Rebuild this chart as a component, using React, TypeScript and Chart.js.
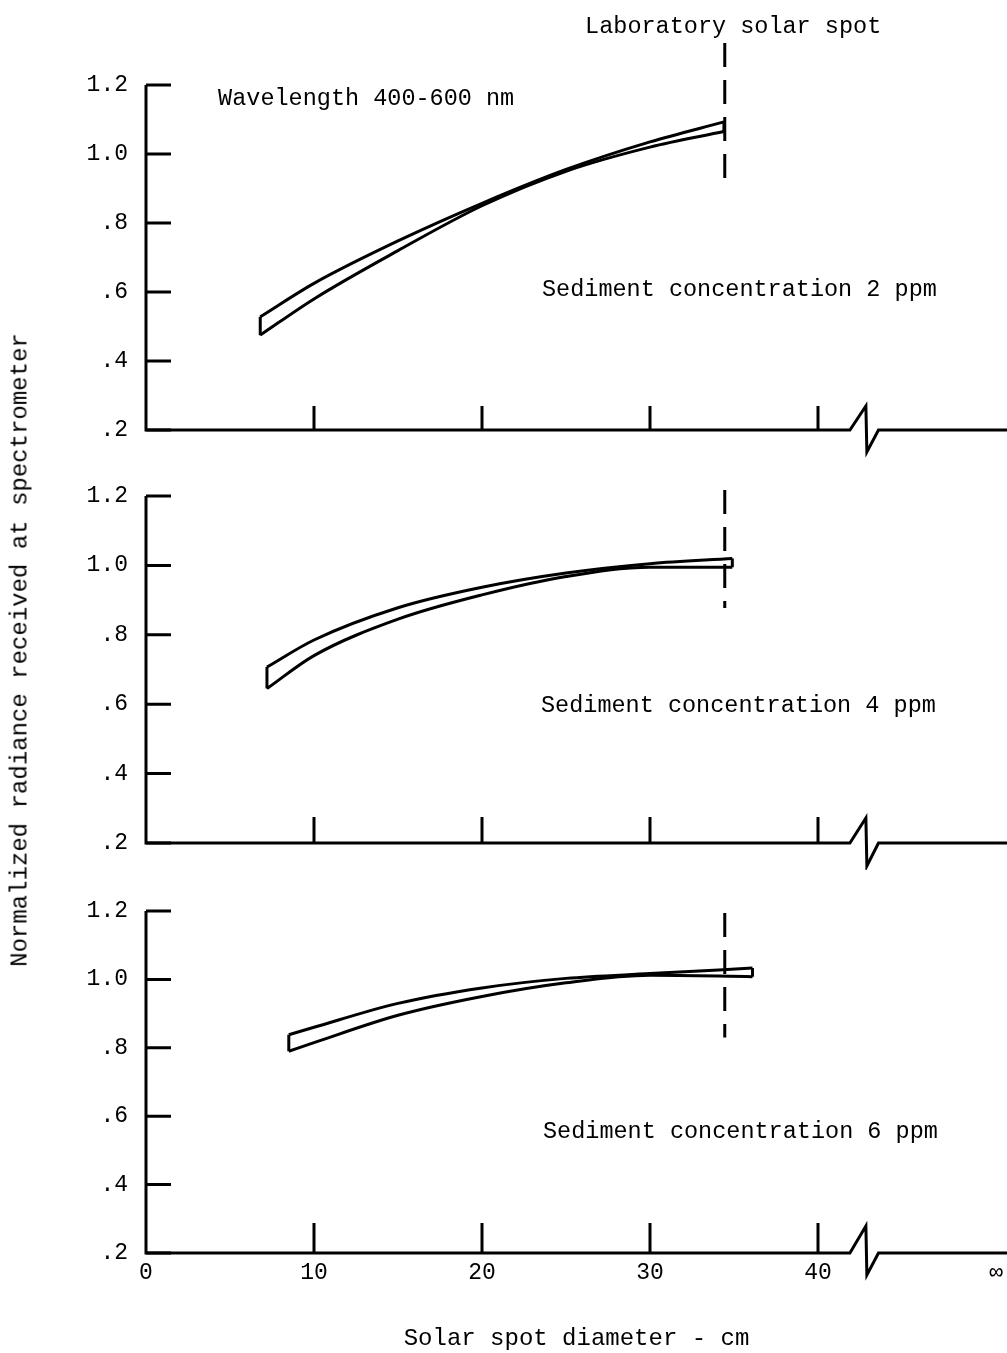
import React, { useEffect, useRef } from 'react';
import { Chart, registerables } from 'chart.js';

Chart.register(...registerables);

const FONT = '"Liberation Mono", "DejaVu Sans Mono", monospace';

// ---- axis ticks ----
const xTickValues = [0, 10, 20, 30, 40, 50.6];
const xTickLabels = ['0', '10', '20', '30', '40', '∞'];
const xTickMarks = [10, 20, 30, 40];
const yTickValues = [0.2, 0.4, 0.6, 0.8, 1.0, 1.2];
const yTickLabels = ['.2', '.4', '.6', '.8', '1.0', '1.2'];

// ---- data: solar spot diameter (cm) vs normalized radiance band ----
const diam2ppm = [6.8, 10, 15, 20, 25, 30, 34.4];
const upper2ppm = [0.528, 0.625, 0.748, 0.857, 0.955, 1.035, 1.093];
const lower2ppm = [0.475, 0.58, 0.72, 0.85, 0.95, 1.02, 1.065];

const diam4ppm = [7.2, 10, 15, 20, 25, 30, 34.9];
const upper4ppm = [0.707, 0.785, 0.878, 0.937, 0.978, 1.005, 1.02];
const lower4ppm = [0.645, 0.74, 0.845, 0.915, 0.968, 0.995, 0.995];

const diam6ppm = [8.5, 10, 15, 20, 25, 30, 36.1];
const upper6ppm = [0.838, 0.86, 0.93, 0.975, 1.003, 1.017, 1.033];
const lower6ppm = [0.79, 0.815, 0.895, 0.95, 0.99, 1.012, 1.008];

// laboratory solar spot marker
const labSpotDiameter = 34.45;
const labSpotTop = [1.322, 1.217, 1.194];
const labSpotBottom = [0.925, 0.877, 0.83];

const panelLabels = [
  'Sediment concentration 2 ppm',
  'Sediment concentration 4 ppm',
  'Sediment concentration 6 ppm',
];

const xAxisTitle = 'Solar spot diameter - cm';
const yAxisTitle = 'Normalized radiance received at spectrometer';
const wavelengthLabel = 'Wavelength 400-600 nm';
const labSpotLabel = 'Laboratory solar spot';

// ---- layout (positions/sizes) ----
const X_MAX = 51.25;
const BREAK = { start: 41.9, peak: 42.85, end: 43.6 };

const panels = [
  {
    diam: diam2ppm, upper: upper2ppm, lower: lower2ppm,
    top: 0, height: 460, axisH: 30, yMax: 0.2 + 430 / 345, tickLen: 24, breakUp: 24, breakDown: 22,
    texts: [
      { text: labSpotLabel, x: 34.95, y: 1.35, align: 'center' },
      { text: wavelengthLabel, x: 4.29, y: 1.142, align: 'left' },
      { text: panelLabels[0], x: 23.57, y: 0.588, align: 'left' },
    ],
  },
  {
    diam: diam4ppm, upper: upper4ppm, lower: lower4ppm,
    top: 460, height: 410, axisH: 27, yMax: 0.2 + 383 / 347, tickLen: 26, breakUp: 25, breakDown: 23,
    texts: [{ text: panelLabels[1], x: 23.51, y: 0.578, align: 'left' }],
  },
  {
    diam: diam6ppm, upper: upper6ppm, lower: lower6ppm,
    top: 870, height: 483, axisH: 100, yMax: 0.2 + 383 / 342, tickLen: 30, breakUp: 27, breakDown: 22,
    texts: [{ text: panelLabels[2], x: 23.63, y: 0.536, align: 'left' }],
  },
];

const framePlugin = {
  id: 'frame',
  afterDraw(chart: any, _args: any, opts: any) {
    const { ctx, chartArea } = chart;
    const xs = chart.scales.x;
    const ys = chart.scales.y;
    const x0 = xs.getPixelForValue(0);
    const y0 = ys.getPixelForValue(0.2);
    const yTop = ys.getPixelForValue(1.2);
    ctx.save();
    ctx.strokeStyle = '#000';
    ctx.lineWidth = 3;
    ctx.lineJoin = 'miter';
    ctx.lineCap = 'butt';
    ctx.beginPath();
    ctx.moveTo(x0, yTop);
    ctx.lineTo(x0, y0);
    const bs = xs.getPixelForValue(BREAK.start);
    const bp = xs.getPixelForValue(BREAK.peak);
    const be = xs.getPixelForValue(BREAK.end);
    ctx.lineTo(bs, y0);
    ctx.lineTo(bp, y0 - opts.breakUp);
    ctx.lineTo(bp + 1, y0 + opts.breakDown);
    ctx.lineTo(be, y0);
    ctx.lineTo(chartArea.right + 2, y0);
    ctx.stroke();
    ctx.beginPath();
    for (const v of yTickValues) {
      const py = ys.getPixelForValue(v);
      ctx.moveTo(x0, py);
      ctx.lineTo(x0 + 25, py);
    }
    for (const v of xTickMarks) {
      const px = xs.getPixelForValue(v);
      ctx.moveTo(px, y0);
      ctx.lineTo(px, y0 - opts.tickLen);
    }
    ctx.stroke();
    ctx.fillStyle = '#000';
    ctx.font = `23.5px ${FONT}`;
    ctx.textBaseline = 'alphabetic';
    for (const t of opts.texts) {
      ctx.textAlign = t.align;
      ctx.fillText(t.text, xs.getPixelForValue(t.x), ys.getPixelForValue(t.y));
    }
    ctx.restore();
  },
};

function pts(xsArr: number[], ysArr: number[]) {
  return xsArr.map((x, i) => ({ x, y: ysArr[i] }));
}

export default function App() {
  const refs = useRef<(HTMLCanvasElement | null)[]>([]);

  useEffect(() => {
    const charts: Chart[] = [];
    panels.forEach((p, i) => {
      const canvas = refs.current[i];
      if (!canvas) return;
      const isBottom = i === panels.length - 1;
      const n = p.diam.length;
      const line = { showLine: true, borderColor: '#000', borderWidth: 3, pointRadius: 0, fill: false };
      const chart = new Chart(canvas, {
        type: 'scatter',
        data: {
          datasets: [
            { ...line, data: pts(p.diam, p.upper), cubicInterpolationMode: 'monotone' },
            { ...line, data: pts(p.diam, p.lower), cubicInterpolationMode: 'monotone' },
            { ...line, data: [{ x: p.diam[0], y: p.upper[0] }, { x: p.diam[0], y: p.lower[0] }] },
            { ...line, data: [{ x: p.diam[n - 1], y: p.upper[n - 1] }, { x: p.diam[n - 1], y: p.lower[n - 1] }] },
            {
              ...line,
              borderDash: [24, 13],
              data: [{ x: labSpotDiameter, y: labSpotTop[i] }, { x: labSpotDiameter, y: labSpotBottom[i] }],
            },
          ] as any,
        },
        options: {
          animation: false,
          responsive: false,
          devicePixelRatio: 1,
          events: [],
          layout: { padding: 0, autoPadding: false } as any,
          plugins: {
            legend: { display: false },
            tooltip: { enabled: false },
            frame: { texts: p.texts, tickLen: p.tickLen, breakUp: p.breakUp, breakDown: p.breakDown },
          } as any,
          scales: {
            x: {
              type: 'linear',
              min: 0,
              max: X_MAX,
              grid: { display: false, drawTicks: false },
              border: { display: false },
              afterBuildTicks: (axis: any) => {
                axis.ticks = xTickValues.map((v) => ({ value: v }));
              },
              afterFit: (axis: any) => {
                axis.height = p.axisH;
                axis.paddingLeft = 0;
                axis.paddingRight = 0;
                axis.paddingTop = 0;
                axis.paddingBottom = 0;
              },
              ticks: {
                display: isBottom,
                autoSkip: false,
                maxRotation: 0,
                padding: 6,
                color: '#000',
                font: { family: FONT, size: 23 },
                callback: (v: any) => {
                  const k = xTickValues.indexOf(Number(v));
                  return k >= 0 ? xTickLabels[k] : '';
                },
              },
              title: {
                display: isBottom,
                text: xAxisTitle,
                color: '#000',
                font: { family: FONT, size: 24 },
                padding: { top: 0, bottom: 0 },
              },
            },
            y: {
              type: 'linear',
              min: 0.2,
              max: p.yMax,
              grid: { display: false, drawTicks: false },
              border: { display: false },
              afterBuildTicks: (axis: any) => {
                axis.ticks = yTickValues.map((v) => ({ value: v }));
              },
              afterFit: (axis: any) => {
                axis.width = 146;
                axis.paddingTop = 0;
                axis.paddingBottom = 0;
                axis.paddingLeft = 0;
                axis.paddingRight = 0;
              },
              ticks: {
                autoSkip: false,
                padding: 18,
                color: '#000',
                font: { family: FONT, size: 23 },
                callback: (v: any) => {
                  const k = yTickValues.findIndex((t) => Math.abs(t - Number(v)) < 1e-6);
                  return k >= 0 ? yTickLabels[k] : '';
                },
              },
            },
          },
        } as any,
        plugins: [framePlugin],
      });
      charts.push(chart);
    });
    return () => charts.forEach((c) => c.destroy());
  }, []);

  return (
    <div style={{ position: 'absolute', left: 0, top: 0, width: 1007, height: 1353, background: '#fff', overflow: 'hidden' }}>
      {panels.map((p, i) => (
        <canvas
          key={i}
          ref={(el) => {
            refs.current[i] = el;
          }}
          width={1007}
          height={p.height}
          style={{ position: 'absolute', left: 0, top: p.top, width: 1007, height: p.height, display: 'block' }}
        />
      ))}
      <div
        style={{
          position: 'absolute',
          left: 20,
          top: 650,
          transform: 'translate(-50%, -50%) rotate(-90deg)',
          whiteSpace: 'nowrap',
          font: `24px ${FONT}`,
          color: '#000',
        }}
      >
        {yAxisTitle}
      </div>
    </div>
  );
}
